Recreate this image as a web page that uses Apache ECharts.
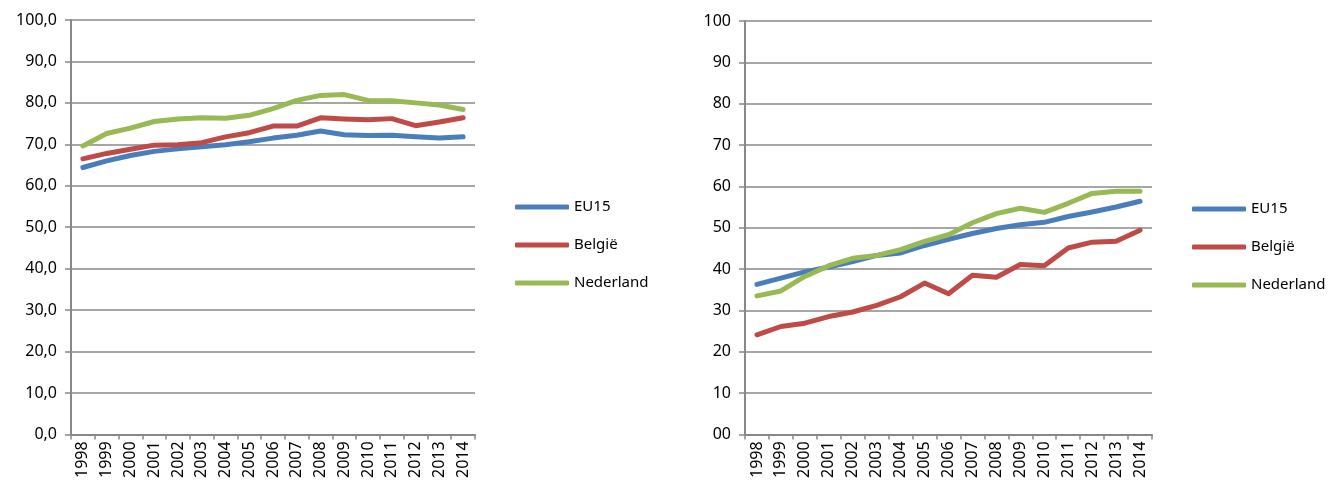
<!DOCTYPE html>
<html>
<head>
<meta charset="utf-8">
<script src="https://cdn.jsdelivr.net/npm/echarts@6/dist/echarts.min.js"></script>
<style>
  html, body { margin: 0; padding: 0; background: #fff; }
  #main { width: 1332px; height: 481px; }
</style>
</head>
<body>
<div id="main"></div>
<script>
// jaren
var years = ['1998','1999','2000','2001','2002','2003','2004','2005','2006','2007','2008','2009','2010','2011','2012','2013','2014'];
var seriesNames = ['EU15', 'België', 'Nederland'];

// linker grafiek
var leftEU15 = [64.4, 66.0, 67.3, 68.3, 68.9, 69.4, 69.9, 70.6, 71.5, 72.2, 73.2, 72.3, 72.1, 72.2, 71.8, 71.5, 71.8];
var leftBE   = [66.5, 67.8, 68.8, 69.8, 69.9, 70.4, 71.8, 72.8, 74.4, 74.4, 76.4, 76.1, 75.9, 76.2, 74.5, 75.4, 76.4];
var leftNL   = [69.6, 72.6, 73.9, 75.5, 76.1, 76.4, 76.3, 77.0, 78.6, 80.6, 81.8, 82.0, 80.6, 80.5, 80.0, 79.5, 78.4];

// rechter grafiek
var rightEU15 = [36.3, 37.8, 39.3, 40.5, 41.8, 43.3, 43.9, 45.7, 47.2, 48.6, 49.8, 50.7, 51.3, 52.7, 53.8, 55.0, 56.4];
var rightBE   = [24.1, 26.1, 26.9, 28.5, 29.6, 31.2, 33.3, 36.6, 34.0, 38.5, 38.0, 41.1, 40.8, 45.1, 46.5, 46.7, 49.4];
var rightNL   = [33.5, 34.7, 38.2, 40.8, 42.6, 43.3, 44.7, 46.7, 48.3, 51.2, 53.4, 54.7, 53.7, 55.9, 58.3, 58.8, 58.8];

var colors = ['#4A7EBB', '#BE4B48', '#98B954'];
var font = '"Noto Sans", "Open Sans", sans-serif';
var gray = '#888888';

function xAxisFor(idx) {
    return {
        type: 'category',
        gridIndex: idx,
        data: years,
        boundaryGap: true,
        axisLine: { lineStyle: { color: gray, width: 2 } },
        axisTick: { show: true, length: 5, lineStyle: { color: gray, width: 1.5 } },
        axisLabel: { rotate: 90, color: '#000', fontFamily: font, fontSize: 16, margin: 7, interval: 0 }
    };
}

function yAxisFor(idx, fmt) {
    return {
        type: 'value',
        gridIndex: idx,
        min: 0,
        max: 100,
        interval: 10,
        axisLine: { show: true, lineStyle: { color: gray, width: 2 } },
        axisTick: { show: true, length: 6, lineStyle: { color: gray, width: 1.5 } },
        splitLine: { lineStyle: { color: gray, width: 1.5 } },
        axisLabel: { color: '#000', fontFamily: font, fontSize: 16, margin: 14, formatter: fmt }
    };
}

function lineSeries(name, data, idx, color) {
    return {
        name: name,
        type: 'line',
        xAxisIndex: idx,
        yAxisIndex: idx,
        data: data,
        symbol: 'none',
        smooth: false,
        animation: false,
        lineStyle: { color: color, width: 5, cap: 'round', join: 'round' },
        itemStyle: { color: color }
    };
}

function legendAt(left, top) {
    return {
        orient: 'vertical',
        left: left,
        top: top,
        padding: 0,
        data: seriesNames,
        icon: 'roundRect',
        itemWidth: 54,
        itemHeight: 5,
        itemGap: 20,
        selectedMode: false,
        textStyle: { color: '#000', fontFamily: font, fontSize: 15, lineHeight: 18 }
    };
}

var myChart = echarts.init(document.getElementById('main'));
var option = {
    backgroundColor: '#FFFFFF',
    color: colors,
    grid: [
        { left: 71, top: 20, width: 404, height: 415 },
        { left: 745, top: 21, width: 407, height: 414 }
    ],
    legend: [legendAt(515, 198), legendAt(1192, 200)],
    xAxis: [xAxisFor(0), xAxisFor(1)],
    yAxis: [
        yAxisFor(0, function (v) { return v.toFixed(1).replace('.', ','); }),
        yAxisFor(1, function (v) { return v === 0 ? '00' : String(v); })
    ],
    series: [
        lineSeries('EU15', leftEU15, 0, colors[0]),
        lineSeries('België', leftBE, 0, colors[1]),
        lineSeries('Nederland', leftNL, 0, colors[2]),
        lineSeries('EU15', rightEU15, 1, colors[0]),
        lineSeries('België', rightBE, 1, colors[1]),
        lineSeries('Nederland', rightNL, 1, colors[2])
    ]
};
myChart.setOption(option, true);
</script>
</body>
</html>
